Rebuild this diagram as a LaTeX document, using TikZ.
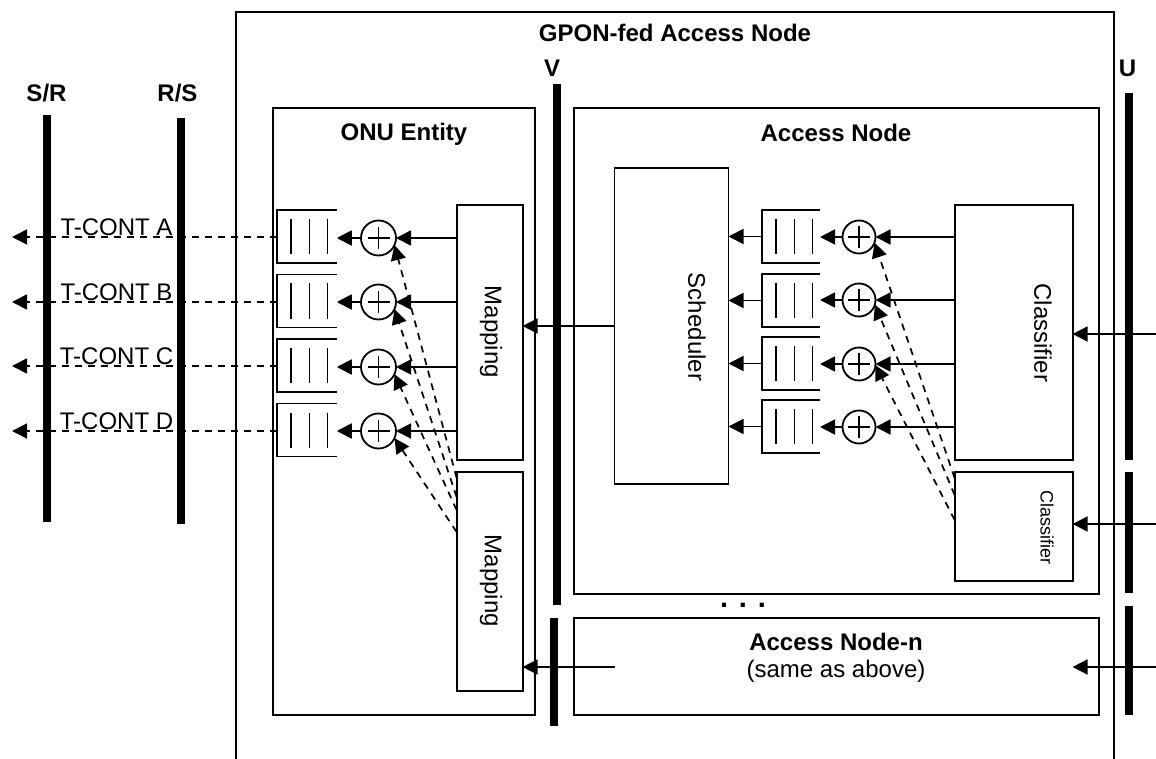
\documentclass[tikz,border=0pt]{standalone}
\usepackage{fontspec}
\setmainfont{Liberation Sans}
\usetikzlibrary{arrows.meta}
\tikzset{
  x=1pt,y=-1pt,
  every node/.style={inner sep=0pt,outer sep=0pt},
  bx/.style={draw=black,line width=1.8pt,fill=white,anchor=north west,rectangle},
  bar/.style={fill=black,rectangle,minimum width=8pt,anchor=north},
  arr/.style={line width=1.8pt,-{Triangle[length=15pt,width=15pt]}},
  dasharr/.style={line width=1.7pt,dash pattern=on 7pt off 6pt,-{Triangle[length=15pt,width=15pt]}},
  sumL/.style={draw=black,line width=1.8pt,fill=white,circle,minimum size=35pt},
  sumR/.style={draw=black,line width=1.8pt,fill=white,circle,minimum size=33pt},
  qbox/.style={rectangle,minimum width=60pt,minimum height=53pt},
  big/.style={font=\fontsize{24}{28}\selectfont},
  bigb/.style={font=\fontsize{24}{28}\selectfont\bfseries},
  small/.style={font=\fontsize{18}{20}\selectfont},
}
\newcommand{\mysum}[1]{%
  \draw[line width=1.5pt] ([xshift=-11pt]#1.center) -- ([xshift=11pt]#1.center);
  \draw[line width=1.5pt] ([yshift=-11pt]#1.center) -- ([yshift=11pt]#1.center);}
\newcommand{\myqueue}[1]{%
  \draw[line width=1.8pt] (#1.north east) -- (#1.north west) -- (#1.south west) -- (#1.south east);
  \foreach \dx in {14,32.5,50.5}{
    \draw[line width=1.5pt] ([xshift=\dx pt,yshift=-9pt]#1.north west) -- ([xshift=\dx pt,yshift=9pt]#1.south west);}}
\begin{document}
\begin{tikzpicture}
\useasboundingbox (0,0) rectangle (1156,759);
% outer frame
\coordinate (oa) at (236,759);
\coordinate (ob) at (236,12);
\coordinate (oc) at (1114,12);
\coordinate (od) at (1114,759);
\draw[line width=1.8pt] (oa) -- (ob) -- (oc) -- (od);
\node[bigb] (title) at (675,33) {GPON-fed Access Node};
% large boxes
\node[bx,minimum width=262pt,minimum height=607pt] (onu) at (273,108) {};
\node[bx,minimum width=525pt,minimum height=486pt] (an) at (574,108) {};
\node[bx,minimum width=525pt,minimum height=97pt] (ann) at (574,618) {};
\node[bigb] (onul) at (404,134) {ONU Entity};
\node[bigb] (anl) at (836,133) {Access Node};
\node[bigb] (annl) at (836,642) {Access Node-n};
\node[big] (anns) at (836,671) {(same as above)};
\node[font=\fontsize{29}{32}\selectfont\bfseries,anchor=base] (dots) at (743,607.5) {. . .};
% bars
\node[bar,minimum height=407pt] (sr) at (46.5,115) {};
\node[bar,minimum height=406pt] (rs) at (180.5,118) {};
\node[bar,minimum height=521pt] (v1) at (557,84) {};
\node[bar,minimum height=108pt] (v2) at (554,618) {};
\node[bar,minimum height=367pt] (u1) at (1129,93) {};
\node[bar,minimum height=121pt] (u2) at (1129,472) {};
\node[bar,minimum height=109pt] (u3) at (1129,606) {};
\node[bigb] (srl) at (46.5,93.5) {S/R};
\node[bigb] (rsl) at (177.5,93.5) {R/S};
\node[bigb] (vl) at (552,68) {V};
\node[bigb] (ul) at (1127.5,68.5) {U};
% inner boxes
\node[bx,minimum width=66pt,minimum height=255pt] (map1) at (456.6,205) {};
\node[bx,minimum width=66pt,minimum height=219pt] (map2) at (456.6,472) {};
\node[bx,minimum width=114pt,minimum height=316pt] (sch) at (614.5,168) {};
\node[bx,minimum width=118pt,minimum height=255pt] (cl1) at (954.6,205) {};
\node[bx,minimum width=118pt,minimum height=109pt] (cl2) at (954.6,472) {};
\node[big,rotate=-90] (m1l) at (491,332) {Mapping};
\node[big,rotate=-90] (m2l) at (491,581) {Mapping};
\node[big,rotate=-90] (schl) at (697,327) {Scheduler};
\node[big,rotate=-90] (c1l) at (1043,333) {Classifier};
\node[small,rotate=-90] (c2l) at (1047,527.5) {Classifier};
% left queues and summers
\node[qbox] (qa) at (306.75,236.5) {};
\node[qbox] (qb) at (306.75,301) {};
\node[qbox] (qc) at (306.75,365.5) {};
\node[qbox] (qd) at (306.75,430) {};
\myqueue{qa}\myqueue{qb}\myqueue{qc}\myqueue{qd}
\node[sumL] (sa) at (378.5,238) {};
\node[sumL] (sb) at (378.5,302) {};
\node[sumL] (sc) at (378.5,367) {};
\node[sumL] (sd) at (378.5,431) {};
\mysum{sa}\mysum{sb}\mysum{sc}\mysum{sd}
% right queues and summers
\node[qbox,minimum width=58pt] (ra) at (791,236.5) {};
\node[qbox,minimum width=58pt] (rb) at (791,300.5) {};
\node[qbox,minimum width=58pt] (rc) at (791,363.5) {};
\node[qbox,minimum width=58pt] (rd) at (791,426.5) {};
\myqueue{ra}\myqueue{rb}\myqueue{rc}\myqueue{rd}
\node[sumR] (ta) at (859,237) {};
\node[sumR] (tb) at (859,300) {};
\node[sumR] (tc) at (859,364) {};
\node[sumR] (td) at (859,427) {};
\mysum{ta}\mysum{tb}\mysum{tc}\mysum{td}
% T-CONT
\node[big] (la) at (116.5,227) {T-CONT A};
\node[big] (lb) at (116.5,292) {T-CONT B};
\node[big] (lc) at (116.5,356) {T-CONT C};
\node[big] (ld) at (116.5,421) {T-CONT D};
\coordinate (ea) at (12,237);
\coordinate (eb) at (12,302);
\coordinate (ec) at (12,366);
\coordinate (ed) at (12,431);
\draw[dasharr] (qa.west |- ea) -- (ea);
\draw[dasharr] (qb.west |- eb) -- (eb);
\draw[dasharr] (qc.west |- ec) -- (ec);
\draw[dasharr] (qd.west |- ed) -- (ed);
% left connectors
\foreach \s/\q in {sa/qa,sb/qb,sc/qc,sd/qd}{\draw[arr] (\s.west) -- (\q.east |- \s.west);}
\foreach \s in {sa,sb,sc,sd}{\draw[arr] (map1.west |- \s.east) -- (\s.east);}
\coordinate (da) at (456.6,478);
\coordinate (db) at (456.6,497);
\coordinate (dc) at (456.6,510);
\coordinate (dd) at (456.6,532);
\draw[dasharr] (da) -- (sa.-24);
\draw[dasharr] (db) -- (sb.-24);
\draw[dasharr] (dc) -- (sc.-24);
\draw[dasharr] (dd) -- (sd.-24);
% right connectors
\foreach \q in {ra,rb,rc,rd}{\draw[arr] (\q.west) -- (sch.east |- \q.west);}
\foreach \s/\q in {ta/ra,tb/rb,tc/rc,td/rd}{\draw[arr] (\s.west) -- (\q.east |- \s.west);}
\foreach \s in {ta,tb,tc,td}{\draw[arr] (cl1.west |- \s.east) -- (\s.east);}
\coordinate (fa) at (954.6,478);
\coordinate (fb) at (954.6,495);
\coordinate (fc) at (954.6,520);
\draw[dasharr] (fa) -- (ta.-20);
\draw[dasharr] (fb) -- (tb.-16);
\draw[dasharr] (fc) -- (tc.-4);
% horizontal links
\coordinate (i1) at (1156,334);
\coordinate (i2) at (1156,524);
\coordinate (i3) at (1156,667);
\coordinate (j3) at (615,667);
\coordinate (k1) at (0,326);
\draw[arr] (i1) -- (cl1.east |- i1);
\draw[arr] (i2) -- (cl2.east |- i2);
\draw[arr] (i3) -- (cl2.east |- i3);
\draw[arr] (sch.west |- k1) -- (map1.east |- k1);
\draw[arr] (j3) -- (map2.east |- j3);
\end{tikzpicture}
\end{document}
